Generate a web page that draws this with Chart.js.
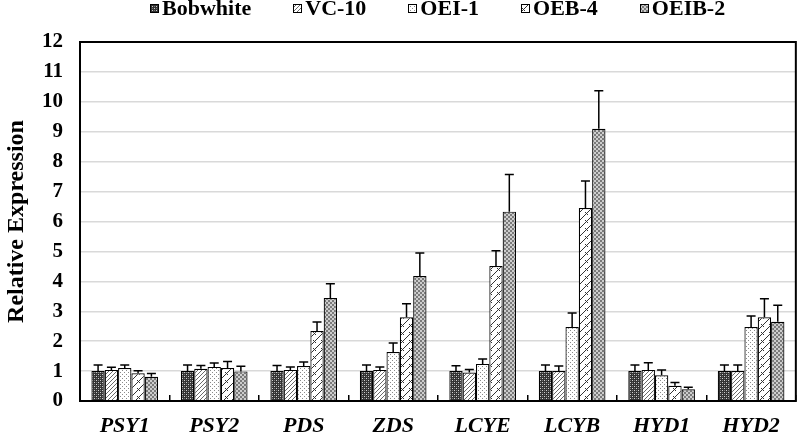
<!DOCTYPE html>
<html>
<head>
<meta charset="utf-8">
<script src="https://cdn.jsdelivr.net/npm/chart.js@4/dist/chart.umd.min.js"></script>
<style>
  html, body { margin: 0; padding: 0; background: #fff; }
  #wrap { position: relative; width: 800px; height: 434px; }
  #legend {
    position: absolute; top: -1px; left: 150px;
    display: flex; gap: 42px; align-items: center;
    font: bold 22px 'Liberation Serif', 'Times New Roman', serif;
    line-height: 18px; color: #000;
  }
  #legend .item { display: flex; align-items: center; gap: 3px; }
  #legend canvas { display: block; }
</style>
</head>
<body>
<div id="wrap">
  <canvas id="chart" width="800" height="434"></canvas>
  <div id="legend"></div>
</div>
<script>
const categories = ['PSY1', 'PSY2', 'PDS', 'ZDS', 'LCYE', 'LCYB', 'HYD1', 'HYD2'];
const seriesNames = ['Bobwhite', 'VC-10', 'OEI-1', 'OEB-4', 'OEIB-2'];

// mean values
const bobwhite = [1.0, 1.0, 1.0, 1.0, 1.0, 1.0, 1.0, 1.0];
const vc10 = [1.04, 1.08, 1.04, 1.04, 0.95, 1.0, 1.04, 1.0];
const oei1 = [1.1, 1.14, 1.17, 1.64, 1.24, 2.47, 0.86, 2.47];
const oeb4 = [0.93, 1.1, 2.34, 2.8, 4.51, 6.45, 0.51, 2.8];
const oeib2 = [0.81, 0.99, 3.44, 4.18, 6.33, 9.1, 0.39, 2.65];

// error bar heights (upper whisker only)
const bobwhiteErr = [0.2, 0.2, 0.19, 0.2, 0.18, 0.2, 0.2, 0.2];
const vc10Err = [0.09, 0.11, 0.1, 0.1, 0.1, 0.17, 0.24, 0.2];
const oei1Err = [0.1, 0.13, 0.13, 0.3, 0.16, 0.47, 0.18, 0.37];
const oeb4Err = [0.08, 0.22, 0.3, 0.45, 0.51, 0.9, 0.11, 0.62];
const oeib2Err = [0.11, 0.17, 0.48, 0.77, 1.24, 1.27, 0.07, 0.55];

const FONT = "'Liberation Serif', 'Times New Roman', serif";
Chart.defaults.font.family = FONT;
Chart.defaults.color = '#000';

// small tiles used as fill patterns
function tile(size, draw) {
  const c = document.createElement('canvas');
  c.width = size; c.height = size;
  const g = c.getContext('2d');
  draw(g, size);
  return c;
}
const tiles = [
  // Bobwhite: dark checker
  tile(4, g => {
    g.fillStyle = '#333'; g.fillRect(0, 0, 4, 4);
    g.fillStyle = '#d0d0d0'; g.fillRect(0, 0, 1, 1); g.fillRect(2, 2, 1, 1);
    g.fillStyle = '#777'; g.fillRect(2, 0, 1, 1); g.fillRect(0, 2, 1, 1);
  }),
  // VC-10: upward diagonal stripes
  tile(4, g => {
    g.fillStyle = '#fff'; g.fillRect(0, 0, 4, 4);
    g.fillStyle = '#6a6a6a';
    g.fillRect(3, 0, 1, 1); g.fillRect(2, 1, 1, 1); g.fillRect(1, 2, 1, 1); g.fillRect(0, 3, 1, 1);
  }),
  // OEI-1: sparse dots
  tile(4, g => {
    g.fillStyle = '#fff'; g.fillRect(0, 0, 4, 4);
    g.fillStyle = '#8a8a8a'; g.fillRect(0, 0, 1, 1); g.fillRect(2, 2, 1, 1);
  }),
  // OEB-4: zigzag
  tile(8, g => {
    g.fillStyle = '#fff'; g.fillRect(0, 0, 8, 8);
    g.fillStyle = '#333';
    for (let k = 0; k < 8; k++) g.fillRect(7 - k, k, 1, 1);
    g.fillRect(1, 4, 1, 1); g.fillRect(2, 5, 1, 1); g.fillRect(3, 6, 1, 1);
  }),
  // OEIB-2: medium grey checker
  tile(4, g => {
    g.fillStyle = '#cdcdcd'; g.fillRect(0, 0, 4, 4);
    g.fillStyle = '#7a7a7a'; g.fillRect(0, 0, 2, 2); g.fillRect(2, 2, 2, 2);
  })
];

const values = [bobwhite, vc10, oei1, oeb4, oeib2];
const errors = [bobwhiteErr, vc10Err, oei1Err, oeb4Err, oeib2Err];

const canvas = document.getElementById('chart');
const ctx = canvas.getContext('2d');

// legend built as html so it can sit where the original one does
const legend = document.getElementById('legend');
seriesNames.forEach((name, i) => {
  const item = document.createElement('div');
  item.className = 'item';
  const sw = document.createElement('canvas');
  sw.width = 9; sw.height = 9;
  const sg = sw.getContext('2d');
  sg.fillStyle = sg.createPattern(tiles[i], 'repeat');
  sg.fillRect(0, 0, 9, 9);
  sg.strokeStyle = '#000'; sg.lineWidth = 1;
  sg.strokeRect(0.5, 0.5, 8, 8);
  const label = document.createElement('span');
  label.textContent = name;
  item.appendChild(sw);
  item.appendChild(label);
  legend.appendChild(item);
});

const errorBars = {
  id: 'errorBars',
  afterDatasetsDraw(chart) {
    const c = chart.ctx;
    const y = chart.scales.y;
    c.save();
    c.strokeStyle = '#000';
    c.lineWidth = 1.5;
    chart.data.datasets.forEach((ds, i) => {
      chart.getDatasetMeta(i).data.forEach((bar, j) => {
        const top = y.getPixelForValue(ds.data[j] + ds.errors[j]);
        const base = y.getPixelForValue(ds.data[j]);
        c.beginPath();
        c.moveTo(bar.x, base);
        c.lineTo(bar.x, top);
        c.moveTo(bar.x - 4.5, top);
        c.lineTo(bar.x + 4.5, top);
        c.stroke();
      });
    });
    c.restore();
  }
};

const frame = {
  id: 'frame',
  afterDraw(chart) {
    const a = chart.chartArea;
    const c = chart.ctx;
    c.save();
    c.strokeStyle = '#000';
    c.lineWidth = 2;
    c.strokeRect(a.left, a.top, a.right - a.left, a.bottom - a.top);
    c.restore();
  }
};

new Chart(ctx, {
  type: 'bar',
  data: {
    labels: categories,
    datasets: seriesNames.map((name, i) => ({
      label: name,
      data: values[i],
      errors: errors[i],
      backgroundColor: ctx.createPattern(tiles[i], 'repeat'),
      borderColor: '#000',
      borderWidth: 1.2,
      categoryPercentage: 0.745,
      barPercentage: 1
    }))
  },
  options: {
    responsive: false,
    animation: false,
    layout: { padding: { top: 42, right: 3, bottom: 0, left: 0 } },
    plugins: {
      legend: { display: false },
      tooltip: { enabled: false }
    },
    scales: {
      x: {
        grid: { drawOnChartArea: false, tickLength: -6, color: '#000', lineWidth: 1.5, offset: true },
        border: { display: false },
        ticks: {
          font: { size: 22, weight: 'bold', style: 'italic', lineHeight: 1 },
          color: '#000', padding: 20, maxRotation: 0, autoSkip: false
        },
        afterFit(scale) { scale.height = 33; }
      },
      y: {
        min: 0, max: 12,
        ticks: { stepSize: 1, font: { size: 21, weight: 'bold' }, color: '#000', padding: 17 },
        grid: { color: '#d9d9d9', lineWidth: 1.5, drawTicks: false },
        border: { display: false },
        title: {
          display: true, text: 'Relative Expression', color: '#000',
          font: { size: 24, weight: 'bold' }, padding: { top: 2, bottom: 0 }
        },
        afterFit(scale) { scale.width = 80; }
      }
    }
  },
  plugins: [errorBars, frame]
});
</script>
</body>
</html>
